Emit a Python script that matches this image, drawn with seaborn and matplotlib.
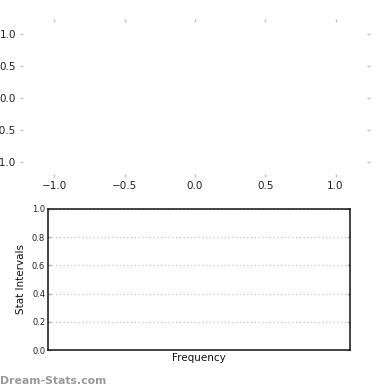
import matplotlib
matplotlib.use("Agg")
import matplotlib.pyplot as plt
import seaborn as sns

# Data (chart is empty)
categories = []
values = []
top_ticks = [-1.0, -0.5, 0.0, 0.5, 1.0]
bottom_yticks = [0.0, 0.2, 0.4, 0.6, 0.8, 1.0]
xlabel = "Frequency"
ylabel = "Stat Intervals"
watermark = "Dream-Stats.com"

sns.set_style("white")
plt.rcParams['font.family'] = ['DejaVu Sans']

fig = plt.figure(figsize=(3.9, 3.9), dpi=100)

W = H = 390.0
def rect(l, t, r, b):
    return [l / W, 1 - b / H, (r - l) / W, (b - t) / H]

# Top empty axes
ax1 = fig.add_axes(rect(20, 19, 370, 177))
ax1.set_xlim(-1.245, 1.245)
ax1.set_ylim(-1.225, 1.225)
ax1.set_xticks(top_ticks)
ax1.set_yticks(top_ticks)
for s in ax1.spines.values():
    s.set_visible(False)
ax1.tick_params(axis='both', which='both', direction='in', length=2.5, width=1,
                color='#c0c0c0', labelsize=7.5, labelcolor='#222222',
                top=True, right=True, bottom=True, left=True, pad=3)
ax1.set_facecolor('white')

# Bottom axes
ax2 = fig.add_axes(rect(48, 209, 350, 350))
if categories:
    sns.barplot(x=categories, y=values, ax=ax2)
ax2.set_xlim(0, 1)
ax2.set_ylim(0, 1)
ax2.set_yticks(bottom_yticks)
ax2.set_yticklabels([f"{v:.1f}" for v in bottom_yticks])
ax2.set_xticks([])
ax2.yaxis.grid(True, linestyle=(0, (1, 2)), color='#c4c4c4', linewidth=0.9)
ax2.set_axisbelow(True)
for s in ax2.spines.values():
    s.set_visible(True)
    s.set_color('#111111')
    s.set_linewidth(1.1)
ax2.tick_params(axis='y', which='both', direction='in', length=2.5, width=1,
                color='#aaaaaa', labelsize=6, labelcolor='#222222',
                left=True, right=True, pad=2)
ax2.set_xlabel(xlabel, fontsize=7.5, color='#111111', labelpad=2)
ax2.set_ylabel(ylabel, fontsize=7.5, color='#111111', labelpad=4)

fig.text(0.0, 1 - 384 / H, watermark, fontsize=7.8, fontweight='bold',
         color='#9a9a9a', ha='left', va='baseline')

fig.savefig("out.png", dpi=100)
